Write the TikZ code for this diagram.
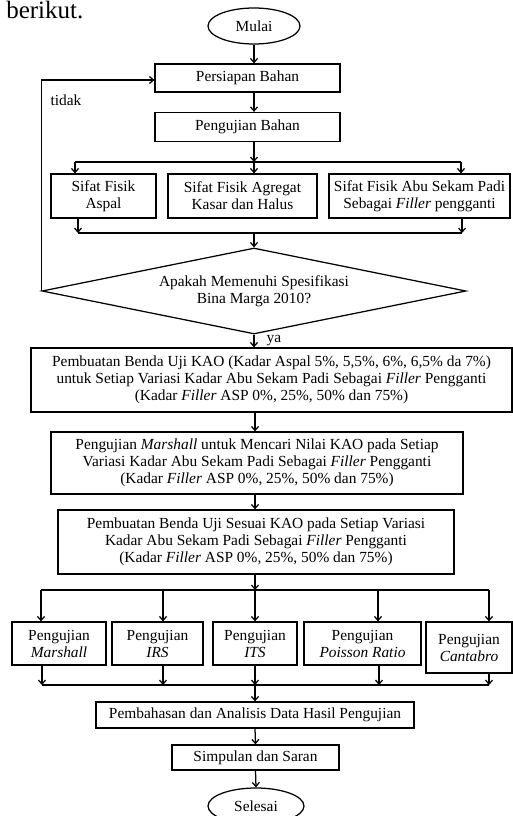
\documentclass[tikz,border=0pt]{standalone}
\usepackage{fontspec}
\setmainfont{Liberation Serif}
\usetikzlibrary{positioning,shapes.geometric,arrows.meta}
\tikzset{>={Straight Barb[length=4pt,width=7pt]},
  box/.style={draw, rectangle, align=center, inner sep=1pt,
    font=\fontsize{15.4}{17}\selectfont},
  terminal/.style={draw, ellipse, inner sep=0pt,
    font=\fontsize{15.4}{17}\selectfont},
  decision/.style={draw, diamond, aspect=4.9, inner sep=0pt, align=center,
    font=\fontsize{15.4}{17}\selectfont},
  remark/.style={inner sep=0pt, font=\fontsize{15.4}{17}\selectfont}}

\begin{document}
\begin{tikzpicture}[x=1pt,y=-1pt,line width=1.25pt]
      \useasboundingbox (0,0) rectangle (513,816);
      \node [anchor=base east,
        inner sep=0pt,
        font=\fontsize{25}{27}\selectfont
      ] (berikut) at (84,19) {berikut.};

      \coordinate (axis) at (254,0);

      \node [terminal,
        minimum width=92pt, minimum height=36pt
      ] (mulai) at (254,26) {Mulai};
      \node [box,
        minimum width=185pt, minimum height=28pt
      ] (persiapan) at (247.5,78) {Persiapan Bahan};
      \node [box,
        minimum width=185pt, minimum height=29pt
      ] (pengujian) at (247.5,127) {Pengujian Bahan};
      \node [box,
        minimum width=105pt, minimum height=44pt
      ] (aspal) at (103.5,196) {Sifat Fisik\\Aspal};
      \node [box,
        minimum width=149pt, minimum height=44pt
      ] (agregat) at (242.5,196) {Sifat Fisik Agregat\\Kasar dan Halus};
      \node [box,
        minimum width=181pt, minimum height=44pt
      ] (abu) at (419.5,196) {Sifat Fisik Abu Sekam Padi\\Sebagai \textit{Filler} pengganti};
      \node [decision,
        minimum width=424pt, minimum height=86pt
      ] (cek) at (254,291) {Apakah Memenuhi Spesifikasi\\Bina Marga 2010?};
      \node [remark,
        anchor=west
      ] (tidak) at (50,100) {tidak};
      \node [remark,
        anchor=west
      ] (ya) at (266,341) {ya};
      \node [box,
        minimum width=481pt, minimum height=64pt
      ] (kao) at (271.5,380) {Pembuatan Benda Uji KAO (Kadar Aspal 5\%, 5,5\%, 6\%, 6,5\% da 7\%)\\
        untuk Setiap Variasi Kadar Abu Sekam Padi Sebagai \textit{Filler} Pengganti\\
        (Kadar \textit{Filler} ASP 0\%, 25\%, 50\% dan 75\%)};
      \node [box,
        minimum width=412pt, minimum height=62pt
      ] (carikao) at (257,463) {Pengujian \textit{Marshall} untuk Mencari Nilai KAO pada Setiap\\
        Variasi Kadar Abu Sekam Padi Sebagai \textit{Filler} Pengganti\\
        (Kadar \textit{Filler} ASP 0\%, 25\%, 50\% dan 75\%)};
      \node [box,
        minimum width=396pt, minimum height=64pt
      ] (sesuaikao) at (256,542) {Pembuatan Benda Uji Sesuai KAO pada Setiap Variasi\\
        Kadar Abu Sekam Padi Sebagai \textit{Filler} Pengganti\\
        (Kadar \textit{Filler} ASP 0\%, 25\%, 50\% dan 75\%)};
      \node [box,
        minimum width=94pt, minimum height=43pt
      ] (marshall) at (59,643.5) {Pengujian\\\textit{Marshall}};
      \node [box,
        minimum width=91pt, minimum height=43pt
      ] (irs) at (157.5,643.5) {Pengujian\\\textit{IRS}};
      \node [box,
        minimum width=84pt, minimum height=43pt
      ] (its) at (255,643.5) {Pengujian\\\textit{ITS}};
      \node [box,
        minimum width=117pt, minimum height=43pt
      ] (poisson) at (362.5,643.5) {Pengujian\\\textit{Poisson Ratio}};
      \node [box,
        minimum width=86pt, minimum height=51pt
      ] (cantabro) at (469,647.5) {Pengujian\\\textit{Cantabro}};
      \node [box,
        minimum width=318pt, minimum height=26pt
      ] (pembahasan) at (255,715) {Pembahasan dan Analisis Data Hasil Pengujian};
      \node [box,
        minimum width=167pt, minimum height=25pt
      ] (simpulan) at (255.5,757.5) {Simpulan dan Saran};
      \node [terminal,
        minimum width=96pt, minimum height=36pt
      ] (selesai) at (256,806) {Selesai};

      % titik cabang dan titik gabung
      \coordinate (bagi1) at (254,162);
      \coordinate (bagi1a) at (75,162);
      \coordinate (bagi1b) at (461,162);
      \coordinate (gabung1) at (254,233);
      \coordinate (gabung1a) at (78,233);
      \coordinate (gabung1b) at (462,233);
      \coordinate (bagi2) at (255,590);
      \coordinate (bagi2a) at (41,590);
      \coordinate (bagi2b) at (163,590);
      \coordinate (bagi2c) at (255,590);
      \coordinate (bagi2d) at (378,590);
      \coordinate (bagi2e) at (489,590);
      \coordinate (gabung2) at (255,685);
      \coordinate (gabung2a) at (42,685);
      \coordinate (gabung2b) at (163,685);
      \coordinate (gabung2c) at (255,685);
      \coordinate (gabung2d) at (379,685);
      \coordinate (gabung2e) at (489,685);

      \draw[->] (mulai.south) -- (mulai.south |- persiapan.north);
      \draw[->] (axis |- persiapan.south) -- (axis |- pengujian.north);
      \draw[->] (axis |- pengujian.south) -- (bagi1);
      \draw (bagi1a) -- (bagi1b);
      \draw[->] (bagi1a) -- (bagi1a |- aspal.north);
      \draw[->] (bagi1) -- (bagi1 |- agregat.north);
      \draw[->] (bagi1b) -- (bagi1b |- abu.north);
      \draw[->] (gabung1a |- aspal.south) -- (gabung1a);
      \draw[->] (gabung1b |- abu.south) -- (gabung1b);
      \draw (gabung1a) -- (gabung1b);
      \draw[->] (gabung1) -- (cek.north);
      \draw[->] (cek.west) |- ([yshift=-2pt]persiapan.west);
      \draw[->] (cek.south) -- (cek.south |- kao.north);
      \draw[->] (bagi2 |- kao.south) -- (bagi2 |- carikao.north);
      \draw[->] (bagi2 |- carikao.south) -- (bagi2 |- sesuaikao.north);
      \draw[->] (bagi2 |- sesuaikao.south) -- (bagi2);
      \draw (bagi2a) -- (bagi2e);
      \draw[->] (bagi2a) -- (bagi2a |- marshall.north);
      \draw[->] (bagi2b) -- (bagi2b |- irs.north);
      \draw[->] (bagi2c) -- (bagi2c |- its.north);
      \draw[->] (bagi2d) -- (bagi2d |- poisson.north);
      \draw[->] (bagi2e) -- (bagi2e |- cantabro.north);
      \draw[->] (gabung2a |- marshall.south) -- (gabung2a);
      \draw[->] (gabung2b |- irs.south) -- (gabung2b);
      \draw[->] (gabung2c |- its.south) -- (gabung2c);
      \draw[->] (gabung2d |- poisson.south) -- (gabung2d);
      \draw[->] (gabung2e |- cantabro.south) -- (gabung2e);
      \draw (gabung2a) -- (gabung2e);
      \draw[->] (gabung2) -- (pembahasan.north);
      \draw[->] (pembahasan.south) -- (simpulan.north);
      \draw[->] (simpulan.south) -- (selesai.north);
\end{tikzpicture}
\end{document}
